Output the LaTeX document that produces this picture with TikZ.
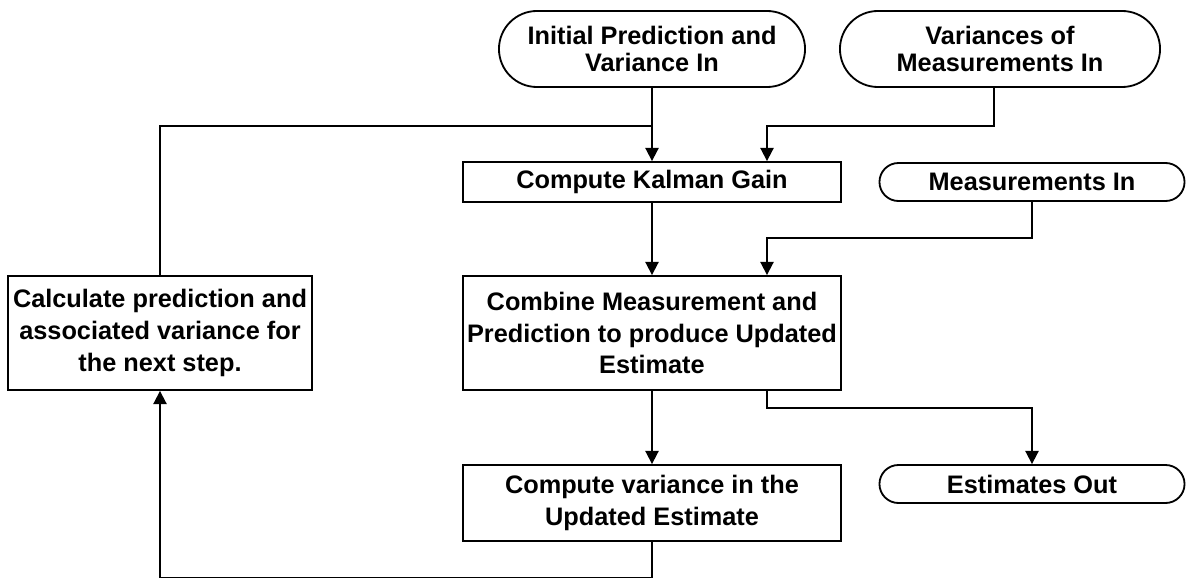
\documentclass[tikz,border=0pt]{standalone}
\usepackage{fontspec}
\setmainfont{Liberation Sans}
\usetikzlibrary{arrows.meta}
\begin{document}
\begin{tikzpicture}[x=0.025cm,y=-0.025cm,line width=1.3pt,>={Triangle[length=0.33cm,width=0.33cm]},
  every node/.style={align=center,inner sep=0pt},
  procbox/.style={draw,rectangle,minimum width=#1,font=\bfseries\fontsize{18}{22.7}\selectfont},
  termbox/.style={draw,rectangle,minimum width=#1,font=\bfseries\fontsize{18}{19}\selectfont}]
\useasboundingbox (0,0) rectangle (1192,578);
% boxes
\node[termbox=7.65cm,minimum height=1.9cm,rounded corners=0.95cm] (initin) at (652,49) {Initial Prediction and\\Variance In};
\node[termbox=8cm,minimum height=1.9cm,rounded corners=0.95cm] (varin) at (1000,49) {Variances of\\Measurements In};
\node[procbox=9.45cm,minimum height=1cm] (gain) at (652,182) {Compute Kalman Gain};
\node[termbox=7.625cm,minimum height=0.95cm,rounded corners=0.475cm] (measin) at (1032,182) {Measurements In};
\node[procbox=9.45cm,minimum height=2.85cm] (combine) at (652,333) {Combine Measurement and\\Prediction to produce Updated\\Estimate};
\node[procbox=7.6cm,minimum height=2.85cm] (predict) at (160,333) {Calculate prediction and\\associated variance for\\the next step.};
\node[termbox=7.625cm,minimum height=0.95cm,rounded corners=0.475cm] (estout) at (1032,484) {Estimates Out};
\node[procbox=9.45cm,minimum height=1.9cm] (varupd) at (652,503) {Compute variance in the\\Updated Estimate};
% bends
\coordinate (vbend) at (994,126);
\coordinate (g2) at (767,0);
% connectors
\draw[->] (initin) -- (gain);
\draw[->] (varin.south -| vbend) -- (vbend) -| (gain.north -| g2);
\draw (predict.north) |- (vbend -| gain.north);
\draw[->] (gain) -- (combine);
\draw[->] (measin.south) -- ++(0,36) -| (combine.north -| g2);
\draw[->] (combine) -- (varupd);
\draw[->] (combine.south -| g2) -- ++(0,17) -| (estout.north);
\draw[->] (varupd.south) -- ++(0,36) -| (predict.south);
\end{tikzpicture}
\end{document}
